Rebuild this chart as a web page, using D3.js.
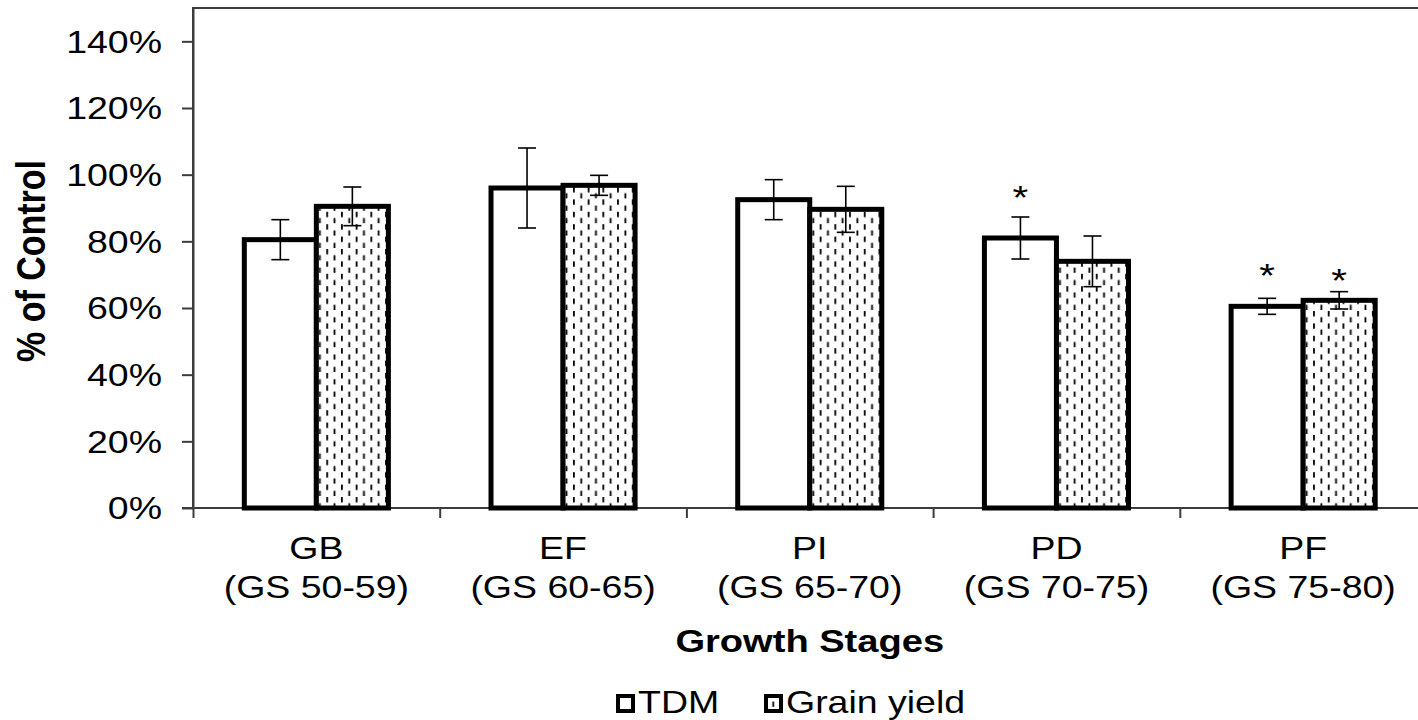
<!DOCTYPE html>
<html>
<head>
<meta charset="utf-8">
<script src="https://cdn.jsdelivr.net/npm/d3@7"></script>
<style>
  body { margin: 0; background: #fff; }
  text { font-family: "Liberation Sans", Arial, sans-serif; fill: #000; }
</style>
</head>
<body>
<div class="chart"></div>
<script>
// data
const categories = ["GB", "EF", "PI", "PD", "PF"];
const stageRanges = ["(GS 50-59)", "(GS 60-65)", "(GS 65-70)", "(GS 70-75)", "(GS 75-80)"];
const series = ["TDM", "Grain yield"];
const tdm = [0.805, 0.96, 0.925, 0.81, 0.605];
const tdmErr = [0.06, 0.12, 0.06, 0.063, 0.024];
const grain = [0.905, 0.968, 0.896, 0.74, 0.623];
const grainErr = [0.058, 0.03, 0.069, 0.076, 0.026];
// height (fraction) where the significance star sits, null = none
const tdmStar = [null, null, null, 0.953, 0.719];
const grainStar = [null, null, null, null, 0.704];
const yTicks = [0, 0.2, 0.4, 0.6, 0.8, 1.0, 1.2, 1.4];

const W = 1418, H = 720;
const SX = 1.19; // picture is a bit wider than tall, stretch text the same way
const FS = 31.5;

const svg = d3.select(".chart").append("svg")
  .attr("width", W).attr("height", H);

const defs = svg.append("defs");
const pat = defs.append("pattern")
  .attr("id", "dash")
  .attr("patternUnits", "userSpaceOnUse")
  .attr("width", 14.7).attr("height", 12.4);
pat.append("rect").attr("width", 14.7).attr("height", 12.4).attr("fill", "#fff");
pat.append("rect").attr("x", 1).attr("y", 1).attr("width", 1.8).attr("height", 5.4).attr("fill", "#000");
pat.append("rect").attr("x", 8.35).attr("y", 7.2).attr("width", 1.8).attr("height", 5.4).attr("fill", "#000");

const plotLeft = 193, plotTop = 8, plotBottom = 508, band = 246.7;

const x = d3.scaleBand()
  .domain(categories)
  .range([plotLeft, plotLeft + band * categories.length])
  .padding(0);
const x1 = d3.scaleBand()
  .domain(series)
  .range([x.bandwidth() * 0.208, x.bandwidth() * 0.792]);
const y = d3.scaleLinear().domain([0, 1.5]).range([plotBottom, plotTop]);

// plot frame (right side falls outside the picture)
svg.append("rect")
  .attr("x", plotLeft).attr("y", plotTop)
  .attr("width", x.range()[1] - plotLeft).attr("height", plotBottom - plotTop)
  .attr("fill", "none").attr("stroke", "#3c3c3c").attr("stroke-width", 2);

// y axis
const yAxis = svg.append("g")
  .attr("transform", "translate(" + plotLeft + ",0)")
  .call(d3.axisLeft(y).tickValues(yTicks).tickFormat(d3.format(".0%")).tickSize(11).tickSizeOuter(0));
yAxis.select(".domain").attr("stroke", "#3c3c3c").attr("stroke-width", 2);
yAxis.selectAll(".tick line").attr("stroke", "#3c3c3c").attr("stroke-width", 2);
yAxis.selectAll(".tick text")
  .attr("x", 0).attr("dy", "0.34em")
  .attr("transform", "translate(-31,0) scale(" + SX + ",1)")
  .style("font-family", "Liberation Sans, Arial, sans-serif")
  .style("font-size", FS + "px").attr("fill", "#000");

// x axis: line + ticks between groups
const xb = d3.scaleLinear().domain([0, categories.length]).range(x.range());
const xAxis = svg.append("g")
  .attr("transform", "translate(0," + plotBottom + ")")
  .call(d3.axisBottom(xb).ticks(categories.length).tickFormat("").tickSize(10).tickSizeOuter(0));
xAxis.select(".domain").remove();
xAxis.selectAll(".tick line").attr("stroke", "#3c3c3c").attr("stroke-width", 2);
svg.append("line")
  .attr("x1", plotLeft - 11).attr("x2", W)
  .attr("y1", plotBottom).attr("y2", plotBottom)
  .attr("stroke", "#3c3c3c").attr("stroke-width", 2);

// category labels
const catLab = svg.append("g").selectAll("text")
  .data(categories)
  .enter().append("text")
  .attr("text-anchor", "middle")
  .style("font-size", FS + "px")
  .attr("transform", d => "translate(" + (x(d) + x.bandwidth() / 2) + ",559) scale(" + SX + ",1)");
catLab.append("tspan").attr("x", 0).attr("y", 0).text(d => d);
catLab.append("tspan").attr("x", 0).attr("y", 39).text((d, i) => stageRanges[i]);

// bars
const rows = categories.map((c, i) => ({
  cat: c,
  vals: [
    {s: series[0], v: tdm[i], e: tdmErr[i], star: tdmStar[i]},
    {s: series[1], v: grain[i], e: grainErr[i], star: grainStar[i]}
  ]
}));

const groups = svg.append("g").selectAll("g")
  .data(rows)
  .enter().append("g")
  .attr("transform", d => "translate(" + x(d.cat) + ",0)");

groups.selectAll("rect")
  .data(d => d.vals)
  .enter().append("rect")
  .attr("x", d => x1(d.s))
  .attr("y", d => y(d.v))
  .attr("width", x1.bandwidth())
  .attr("height", d => y(0) - y(d.v))
  .attr("fill", (d, i) => i === 0 ? "#fff" : "url(#dash)")
  .attr("stroke", "#000")
  .attr("stroke-width", 5);

// error bars
const eb = groups.selectAll("g.err")
  .data(d => d.vals)
  .enter().append("g").attr("class", "err")
  .attr("transform", d => "translate(" + (x1(d.s) + x1.bandwidth() / 2) + ",0)")
  .attr("stroke", "#000").attr("stroke-width", 1.6);
eb.append("line").attr("y1", d => y(d.v + d.e)).attr("y2", d => y(d.v - d.e));
eb.append("line").attr("x1", -9).attr("x2", 9).attr("y1", d => y(d.v + d.e)).attr("y2", d => y(d.v + d.e));
eb.append("line").attr("x1", -9).attr("x2", 9).attr("y1", d => y(d.v - d.e)).attr("y2", d => y(d.v - d.e));

// significance stars
groups.selectAll("text.star")
  .data(d => d.vals.filter(v => v.star != null))
  .enter().append("text").attr("class", "star")
  .attr("text-anchor", "middle")
  .style("font-size", "34px")
  .attr("transform", d => "translate(" + (x1(d.s) + x1.bandwidth() / 2) + "," + (y(d.star) + 19) + ") scale(" + SX + ",1)")
  .text("*");

// axis titles
svg.append("text")
  .attr("text-anchor", "middle")
  .style("font-size", "32px").style("font-weight", "bold")
  .attr("transform", "translate(" + (plotLeft + band * categories.length / 2) + ",652) scale(" + SX + ",1)")
  .text("Growth Stages");

svg.append("text")
  .attr("text-anchor", "middle")
  .style("font-size", "34px").style("font-weight", "bold")
  .attr("transform", "translate(45,261) scale(" + SX + ",1) rotate(-90)")
  .text("% of Control");

// legend
const legendX = [616, 764];
const leg = svg.append("g").selectAll("g")
  .data(series)
  .enter().append("g")
  .attr("transform", (d, i) => "translate(" + legendX[i] + ",0)");
leg.append("rect")
  .attr("x", 2).attr("y", 696)
  .attr("width", 15).attr("height", 15)
  .attr("fill", (d, i) => i === 0 ? "#fff" : "url(#dash)")
  .attr("stroke", "#000").attr("stroke-width", 4);
leg.append("text")
  .style("font-size", FS + "px")
  .attr("transform", "translate(22,713) scale(" + SX + ",1)")
  .text(d => d);
</script>
</body>
</html>
